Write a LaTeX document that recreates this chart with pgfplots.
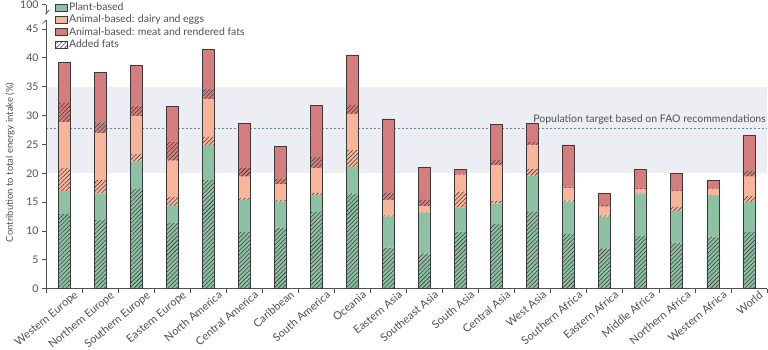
\documentclass[border=0pt]{standalone}
\usepackage{fontspec}
\setmainfont{Lato}
\usepackage{pgfplots}
\usepackage{pgfplotstable}
\pgfplotsset{compat=1.18}
\usetikzlibrary{patterns.meta}
\definecolor{gr}{HTML}{8DC1A4}
\definecolor{pe}{HTML}{F9B59A}
\definecolor{re}{HTML}{D47D7C}
\definecolor{band}{HTML}{EDEEF3}
\definecolor{tx}{HTML}{505050}
\definecolor{dsh}{HTML}{5F8A96}
\definecolor{ol}{HTML}{3A3A3A}
\pgfplotstableread{
x gh g ph p rh r tot
0 12.9 4.0 4.0 7.9 3.4 7.0 39.2
1 12.0 4.5 2.3 8.1 1.9 8.7 37.5
2 17.4 4.6 1.3 6.6 1.8 6.9 38.6
3 11.5 2.8 1.6 6.3 3.3 6.1 31.6
4 18.8 6.1 1.4 6.6 1.8 6.8 41.5
5 9.8 5.6 0.3 3.7 1.6 7.7 28.7
6 10.6 4.5 0.3 2.7 1.0 5.6 24.7
7 13.3 2.9 0.4 4.3 1.9 9.0 31.8
8 16.5 4.6 2.9 6.3 1.5 8.7 40.5
9 7.1 5.4 0.2 2.7 1.2 12.8 29.4
10 6.1 7.1 0.1 1.0 1.1 5.6 21.0
11 9.9 4.2 2.7 2.9 0.1 0.9 20.7
12 11.2 3.6 0.4 6.2 0.9 6.2 28.5
13 13.3 6.3 1.1 4.2 0.5 3.2 28.6
14 9.5 5.6 0.2 2.1 0.3 7.2 24.9
15 7.0 5.5 0.2 1.5 0.3 2.0 16.5
16 9.2 7.3 0.1 0.6 0.3 3.2 20.7
17 8.0 5.5 0.7 2.7 0.3 2.8 20.0
18 9.0 7.2 0.1 0.9 0.2 1.3 18.7
19 9.8 5.2 1.1 3.3 1.1 6.1 26.6
}\data
\tikzset{hatch/.style={postaction={pattern={Lines[angle=45,distance=3pt,line width=0.55pt]},pattern color=ol}}}
\pgfplotsset{common/.style={scale only axis, width=721pt, height=284pt,
  xmin=-0.5, xmax=19.5, ymin=0, ymax=49.2}}
\begin{document}
\begin{tikzpicture}[font=\fontsize{10.5}{12}\selectfont]
% background: band, target line
\begin{axis}[common, hide axis, clip=false]
\fill[band] (axis cs:-0.5,20) rectangle (axis cs:19.5,35);
\draw[dsh, line width=0.7pt, dash pattern=on 2pt off 2pt] (axis cs:-0.5,27.7) -- (axis cs:19.5,27.7);
\node[anchor=south east, text=tx, inner sep=1pt] at (axis cs:19.5,28.2) {Population target based on FAO recommendations};
\coordinate (ll) at (rel axis cs:0,0);
\coordinate (ur) at (rel axis cs:1,1);
\end{axis}
% bars
\begin{axis}[common, ybar stacked, bar width=12pt, bar shift=0pt,
  axis x line=bottom, axis y line=left, axis line style={-, draw=tx, line width=0.7pt},
  tick align=outside, major tick length=4pt, minor tick length=4pt,
  tick style={draw=tx, line width=0.7pt},
  ytick={0,5,10,15,20,25,30,35,40,45,49.2},
  yticklabels={0,5,10,15,20,25,30,35,40,45,100},
  xtick={0,...,19},
  xticklabels={Western Europe,Northern Europe,Southern Europe,Eastern Europe,North America,Central America,Caribbean,South America,Oceania,Eastern Asia,Southeast Asia,South Asia,Central Asia,West Asia,Southern Africa,Eastern Africa,Middle Africa,Northern Africa,Western Africa,World},
  minor xtick={-0.5,0.5,...,19.5},
  major x tick style={draw=none},
  xticklabel style={rotate=40, anchor=north east, inner sep=1pt, xshift=10pt, yshift=-3pt, text=tx, font=\fontsize{11}{12}\selectfont},
  yticklabel style={text=tx},
  /pgf/number format/assume math mode=true,
  ylabel={Contribution to total energy intake (\%)},
  ylabel style={at={(axis description cs:-0.05,0.445)}, anchor=center, text=tx, font=\fontsize{9.5}{11}\selectfont}]
\addplot[fill=gr, draw=none, hatch] table[x=x,y=gh]{\data};
\addplot[fill=gr, draw=none] table[x=x,y=g]{\data};
\addplot[fill=pe, draw=none, hatch] table[x=x,y=ph]{\data};
\addplot[fill=pe, draw=none] table[x=x,y=p]{\data};
\addplot[fill=re, draw=none, hatch] table[x=x,y=rh]{\data};
\addplot[fill=re, draw=none] table[x=x,y=r]{\data};
\end{axis}
% outlines, legend, axis break
\begin{axis}[common, hide axis, clip=false, ybar stacked, bar width=12pt, bar shift=0pt,
  legend style={at={(0.0125,1.012)}, anchor=north west, draw=none, fill=none,
    text=tx, row sep=0.8pt, inner sep=0pt,
    nodes={inner sep=1.2pt}},
  legend cell align=left,
  legend image code/.code={\draw[#1] (0pt,-3.5pt) rectangle (12pt,3.5pt);}]
\addplot[fill=none, draw=ol, line width=0.8pt, forget plot] table[x=x,y=tot]{\data};
\addlegendimage{fill=gr, draw=ol, line width=0.6pt}
\addlegendentry{Plant-based}
\addlegendimage{fill=pe, draw=ol, line width=0.6pt}
\addlegendentry{Animal-based: dairy and eggs}
\addlegendimage{fill=re, draw=ol, line width=0.6pt}
\addlegendentry{Animal-based: meat and rendered fats}
\addlegendimage{fill=white, draw=ol, line width=0.6pt, hatch}
\addlegendentry{Added fats}
\fill[white] ([xshift=-5pt]axis cs:-0.5,46.6) rectangle ([xshift=5pt]axis cs:-0.5,47.6);
\draw[tx, line width=0.7pt] ([xshift=-3.5pt]axis cs:-0.5,45.9) -- ([xshift=3.5pt]axis cs:-0.5,47.1);
\draw[tx, line width=0.7pt] ([xshift=-3.5pt]axis cs:-0.5,47.1) -- ([xshift=3.5pt]axis cs:-0.5,48.3);
\end{axis}
\pgfresetboundingbox
\path ([shift={(-46pt,-61.3pt)}]ll) rectangle ([shift={(1pt,4.7pt)}]ur);
\end{tikzpicture}
\end{document}
